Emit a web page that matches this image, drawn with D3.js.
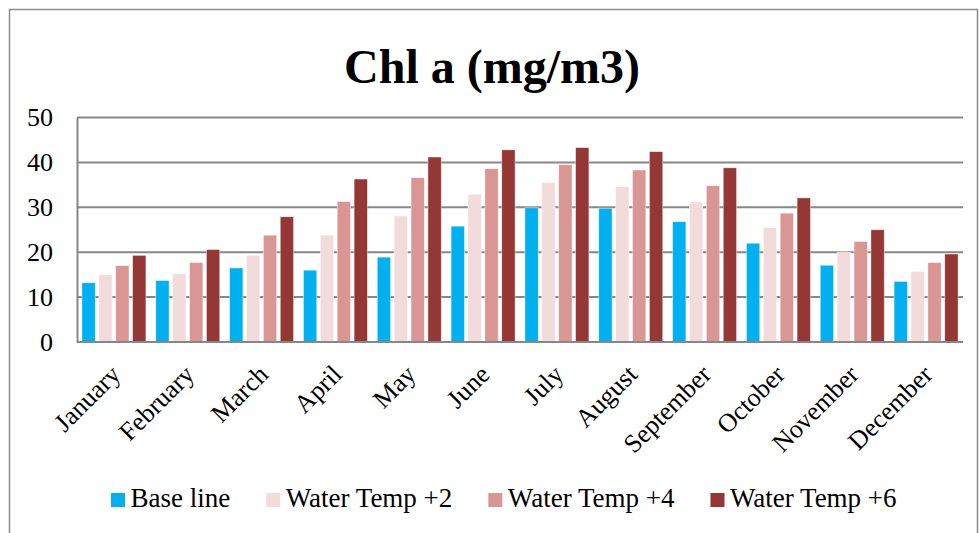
<!DOCTYPE html>
<html>
<head>
<meta charset="utf-8">
<script src="https://cdn.jsdelivr.net/npm/d3@7"></script>
<style>
  html, body { margin: 0; padding: 0; background: #fff; }
  svg { display: block; }
  text { font-family: "Liberation Serif", "Times New Roman", serif; fill: #000; }
</style>
</head>
<body>
<svg id="chart" width="979" height="533"></svg>
<script>
// Monthly chlorophyll-a concentration under warming scenarios
const months = ["January", "February", "March", "April", "May", "June",
                "July", "August", "September", "October", "November", "December"];
const seriesNames = ["Base line", "Water Temp +2", "Water Temp +4", "Water Temp +6"];
const baseLine = [13.2, 13.7, 16.5, 16.0, 18.9, 25.8, 29.9, 29.8, 26.8, 22.0, 17.1, 13.5];
const temp2    = [15.0, 15.2, 19.3, 23.8, 28.1, 32.9, 35.5, 34.6, 31.2, 25.5, 20.0, 15.7];
const temp4    = [17.0, 17.7, 23.8, 31.3, 36.6, 38.6, 39.5, 38.3, 34.8, 28.7, 22.4, 17.7];
const temp6    = [19.3, 20.6, 27.9, 36.3, 41.2, 42.8, 43.3, 42.4, 38.8, 32.1, 25.0, 19.6];
const yTicks = [0, 10, 20, 30, 40, 50];
const colors = ["#00B0F0", "#F2DCDB", "#D99694", "#953735"];

const series = [baseLine, temp2, temp4, temp6];
const rows = months.map((m, i) => ({ month: m, values: series.map(s => s[i]) }));

const svg = d3.select("#chart");
const plot = { left: 77, right: 963, top: 117.5, bottom: 342 };

// Outer chart frame
svg.append("path")
  .attr("d", "M9.5,540 V9.5 H977.5 V540")
  .attr("fill", "none")
  .attr("stroke", "#8c8c8c")
  .attr("stroke-width", 1.5);

// Title
svg.append("text")
  .attr("x", 492)
  .attr("y", 83)
  .attr("text-anchor", "middle")
  .style("font-size", "48px")
  .style("font-weight", "bold")
  .text("Chl a (mg/m3)");

const x0 = d3.scaleBand()
  .domain(months)
  .range([plot.left, plot.right])
  .paddingInner(0.133)
  .paddingOuter(0.0665);

const x1 = d3.scaleBand()
  .domain(d3.range(seriesNames.length))
  .range([0, x0.bandwidth()])
  .paddingInner(0.21)
  .paddingOuter(0);

const y = d3.scaleLinear()
  .domain([0, 50])
  .range([plot.bottom, plot.top]);

// Horizontal gridlines
svg.append("g")
  .selectAll("line")
  .data(yTicks.filter(t => t > 0))
  .join("line")
  .attr("x1", plot.left)
  .attr("x2", plot.right)
  .attr("y1", d => y(d))
  .attr("y2", d => y(d))
  .attr("stroke", "#878787")
  .attr("stroke-width", 2);

// Y axis
const yAxis = svg.append("g")
  .attr("transform", `translate(${plot.left},0)`)
  .call(d3.axisLeft(y).tickValues(yTicks).tickSize(0).tickPadding(24));
yAxis.attr("font-family", null);
yAxis.select(".domain").attr("stroke", "#878787").attr("stroke-width", 2);
yAxis.selectAll("text").style("font-size", "26px");

// Bars
svg.append("g")
  .selectAll("g")
  .data(rows)
  .join("g")
  .attr("transform", d => `translate(${x0(d.month)},0)`)
  .selectAll("rect")
  .data(d => d.values.map((v, k) => ({ k, v })))
  .join("rect")
  .attr("x", d => x1(d.k))
  .attr("width", x1.bandwidth())
  .attr("y", d => y(d.v))
  .attr("height", d => y(0) - y(d.v))
  .attr("fill", d => colors[d.k])
  .attr("stroke", "#ffffff")
  .attr("stroke-opacity", 0.6)
  .attr("stroke-width", 0.75);

// X axis baseline
svg.append("line")
  .attr("x1", plot.left)
  .attr("x2", plot.right)
  .attr("y1", y(0))
  .attr("y2", y(0))
  .attr("stroke", "#878787")
  .attr("stroke-width", 2);

// Rotated month labels
svg.append("g")
  .selectAll("text")
  .data(months)
  .join("text")
  .attr("text-anchor", "end")
  .attr("transform", d => `translate(${x0(d) + x0.bandwidth() / 2 + 8},376) rotate(-45)`)
  .style("font-size", "26px")
  .text(d => d);

// Legend
const legend = svg.append("g").attr("transform", "translate(111,0)");
let lx = 0;
seriesNames.forEach((name, k) => {
  const item = legend.append("g").attr("transform", `translate(${lx},0)`);
  item.append("rect")
    .attr("x", 0).attr("y", 493)
    .attr("width", 14).attr("height", 14)
    .attr("fill", colors[k]);
  const t = item.append("text")
    .attr("x", 19.5).attr("y", 507)
    .style("font-size", "27px")
    .text(name);
  lx += 19.5 + t.node().getComputedTextLength() + 36;
});
</script>
</body>
</html>
